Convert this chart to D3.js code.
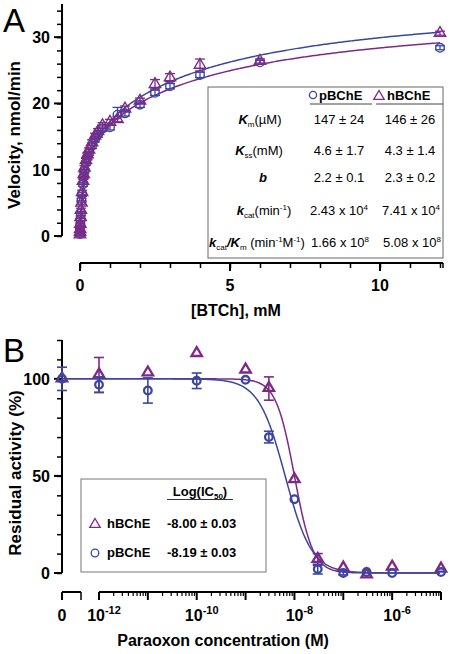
<!DOCTYPE html>
<html><head><meta charset="utf-8">
<script src="https://cdn.jsdelivr.net/npm/d3@7"></script>
<style>
body{margin:0;background:#fff;}
svg{display:block;font-family:"Liberation Sans",Arial,Helvetica,sans-serif;}
</style></head>
<body>
<svg id="c" width="450" height="654"></svg>
<script>
// ---------- Panel A data ----------
const substrateA = [0, 0.002, 0.005, 0.01, 0.02, 0.03, 0.05, 0.07, 0.1, 0.125, 0.15, 0.2, 0.25, 0.3, 0.4, 0.5, 0.6, 0.75, 1.0, 1.25, 1.5, 2.0, 2.5, 3.0, 4.0, 6.0, 12.0];
const pVel = [0.3, 0.5, 0.9, 1.6, 2.5, 3.4, 5.4, 6.3, 7.8, 8.9, 9.8, 11.0, 11.8, 12.5, 13.6, 14.6, 15.3, 16.2, 16.4, 18.3, 18.5, 19.8, 21.6, 22.6, 24.3, 26.2, 28.4];
const pVelErr = [0.2, 0.2, 0.2, 0.2, 0.2, 0.3, 0.3, 0.3, 0.3, 0.3, 0.3, 0.3, 0.3, 0.3, 0.4, 0.4, 0.4, 0.4, 0.4, 1.1, 0.4, 0.4, 0.4, 0.4, 0.4, 0.3, 0.3];
const hVel = [0.2, 0.6, 1.0, 1.8, 2.8, 3.9, 5.0, 6.6, 8.3, 9.3, 10.3, 11.4, 12.3, 13.0, 14.1, 15.1, 15.8, 16.7, 17.2, 17.6, 19.2, 20.4, 22.9, 23.9, 25.8, 26.4, 30.6];
const hVelErr = [0.2, 0.2, 0.2, 0.2, 0.2, 0.3, 0.3, 0.3, 0.3, 0.3, 0.3, 0.3, 0.3, 0.3, 0.4, 0.4, 0.4, 0.4, 0.4, 0.4, 0.4, 0.4, 0.7, 0.6, 0.9, 0.3, 0.3];
// fitted model parameters (Km mM, Kss mM, b, Vmax)  [upper blue line, lower purple line]
const fitKm = [0.146, 0.147];
const fitKss = [4.3, 4.6];
const fitB = [2.3, 2.2];
const fitVmax = [15.9, 15.8];
const ticksAx = [0, 5, 10];
const ticksAy = [0, 10, 20, 30];

// ---------- Panel B data ----------
const concB = [1e-12, 1e-11, 1e-10, 1e-9, 3e-9, 1e-8, 3e-8, 1e-7, 3e-7, 1e-6, 1e-5];
const hAct0 = 100, pAct0 = 100;
const hAct = [102, 103, 113, 104.5, 95, 48, 7, 2.5, -1, 3, 2];
const hErr = [9, 0, 0, 0, 6, 0, 3, 0, 0, 0, 0];
const pAct = [97, 94, 99, 99.5, 70, 38, 2, 0, 0.5, 0, 0.5];
const pErr = [4, 6.5, 4, 0, 3, 0, 2.5, 1, 0, 0, 0];
const pErr0 = 6;
const logIC50 = [-8.00, -8.19]; // hBChE, pBChE
const hill = [2.3, 1.6];
const ticksBy = [0, 50, 100];
const ticksBxExp = [-12, -10, -8, -6];

const BLUE = "#3a47a0", PURPLE = "#7d2a87";
const svg = d3.select("#c");

// ================= Panel A =================
const xA = d3.scaleLinear().domain([0, 12.1]).range([80, 443]);
const yA = d3.scaleLinear().domain([0, 35]).range([236, 4]);

svg.append("text").attr("x", 3).attr("y", 32).attr("font-size", 33).text("A");

// y axis
const gAy = svg.append("g").attr("transform", "translate(62,0)");
gAy.call(d3.axisLeft(yA).tickValues(d3.range(0, 35.01, 2)).tickSize(5).tickFormat(""));
gAy.selectAll(".major").data(ticksAy).enter().append("line").attr("class","major")
  .attr("x1", -8).attr("x2", 0).attr("y1", d => yA(d)).attr("y2", d => yA(d)).attr("stroke","#000").attr("stroke-width",2);
gAy.selectAll(".lab").data(ticksAy).enter().append("text").attr("class","lab")
  .attr("x", -12).attr("y", d => yA(d) + 6).attr("text-anchor","end").attr("fill","#000")
  .attr("font-family",'"Liberation Sans",Arial,sans-serif').attr("font-size",16).attr("font-weight","bold").text(d => d);
gAy.select(".domain").attr("stroke-width", 2).attr("d", `M0,${yA(35)}V${yA(0)}`);
gAy.selectAll(".tick line").attr("stroke-width", 1.5);

// x axis
const gAx = svg.append("g").attr("transform", "translate(0,263)");
gAx.call(d3.axisBottom(xA).tickValues(d3.range(0, 12.01, 1)).tickSize(5).tickFormat(""));
gAx.selectAll(".majorx").data(ticksAx).enter().append("line").attr("class","majorx")
  .attr("x1", d => xA(d)).attr("x2", d => xA(d)).attr("y1", 0).attr("y2", 8).attr("stroke","#000").attr("stroke-width",2);
gAx.selectAll(".lab").data(ticksAx).enter().append("text").attr("class","lab")
  .attr("x", d => xA(d)).attr("y", 28).attr("text-anchor","middle").attr("fill","#000")
  .attr("font-family",'"Liberation Sans",Arial,sans-serif').attr("font-size",16).attr("font-weight","bold").text(d => d);
gAx.select(".domain").attr("stroke-width", 2).attr("d", `M${xA(0)},0H${xA(12.1)}`);
gAx.selectAll(".tick line").attr("stroke-width", 1.5);
gAx.append("line").attr("x1", xA(12.1)).attr("x2", xA(12.1)).attr("y1",0).attr("y2",5).attr("stroke","#000").attr("stroke-width",1.5);

svg.append("text").attr("x", 236).attr("y", 316).attr("text-anchor","middle").attr("font-size",16).attr("font-weight","bold").text("[BTCh], mM");
svg.append("text").attr("transform","translate(20,135) rotate(-90)").attr("text-anchor","middle").attr("font-size",17).attr("font-weight","bold").text("Velocity, nmol/min");

// fit curves
function model(S, i){
  return fitVmax[i] * S / (fitKm[i] + S) * (1 + fitB[i] * S / fitKss[i]) / (1 + S / fitKss[i]);
}
const sGrid = d3.range(0, 0.5, 0.002).concat(d3.range(0.5, 12.0001, 0.05));
const lineA = d3.line().x(d => xA(d[0])).y(d => yA(d[1]));
[[0, BLUE], [1, PURPLE]].forEach(([i, col]) => {
  svg.append("path").attr("d", lineA(sGrid.map(s => [s, model(s, i)])))
    .attr("fill","none").attr("stroke", col).attr("stroke-width", 1.5);
});

// table box (drawn over lines)
svg.append("rect").attr("x", 208).attr("y", 87).attr("width", 235).attr("height", 171)
  .attr("fill","#fff").attr("stroke","#666").attr("stroke-width",1);

// markers A
function errBars(g, xs, ys, es, xS, yS, col, cap, sw){
  xs.forEach((x, k) => {
    if (!es[k]) return;
    const cx = xS(x), y1 = yS(ys[k] - es[k]), y2 = yS(ys[k] + es[k]);
    g.append("line").attr("x1",cx).attr("x2",cx).attr("y1",y1).attr("y2",y2).attr("stroke",col).attr("stroke-width",sw);
    g.append("line").attr("x1",cx-cap).attr("x2",cx+cap).attr("y1",y1).attr("y2",y1).attr("stroke",col).attr("stroke-width",sw);
    g.append("line").attr("x1",cx-cap).attr("x2",cx+cap).attr("y1",y2).attr("y2",y2).attr("stroke",col).attr("stroke-width",sw);
  });
}
const tri = (cx, cy, s) => `M${cx},${cy - s}L${cx + s * 0.95},${cy + s * 0.62}L${cx - s * 0.95},${cy + s * 0.62}Z`;
const gA = svg.append("g");
errBars(gA, substrateA, pVel, pVelErr, xA, yA, BLUE, 5, 1.3);
gA.selectAll(".pc").data(substrateA).enter().append("circle")
  .attr("cx", d => xA(d)).attr("cy", (d, k) => yA(pVel[k])).attr("r", 4.3)
  .attr("fill","none").attr("stroke", BLUE).attr("stroke-width", 1.4);
errBars(gA, substrateA, hVel, hVelErr, xA, yA, PURPLE, 5, 1.3);
gA.selectAll(".ht").data(substrateA).enter().append("path")
  .attr("d", (d, k) => tri(xA(d), yA(hVel[k]) - 0.5, 6))
  .attr("fill","none").attr("stroke", PURPLE).attr("stroke-width", 1.4);

// table contents
const T = svg.append("g").attr("font-size", 13);
T.append("circle").attr("cx", 313).attr("cy", 95).attr("r", 3.6).attr("fill","none").attr("stroke",BLUE).attr("stroke-width",1.3);
T.append("text").attr("x", 319).attr("y", 100).attr("font-weight","bold").text("pBChE");
T.append("path").attr("d", tri(379, 96, 5.5)).attr("fill","none").attr("stroke",PURPLE).attr("stroke-width",1.3);
T.append("text").attr("x", 387).attr("y", 100).attr("font-weight","bold").text("hBChE");
T.append("line").attr("x1", 310).attr("x2", 372).attr("y1", 104).attr("y2", 104).attr("stroke","#444");
T.append("line").attr("x1", 376).attr("x2", 443).attr("y1", 104).attr("y2", 104).attr("stroke","#444");

function label(x, y, parts, anchor){
  const t = T.append("text").attr("x", x).attr("y", y).attr("text-anchor", anchor || "middle");
  parts.forEach(p => {
    const s = t.append("tspan").text(p.t);
    if (p.b) s.attr("font-weight","bold");
    if (p.i) s.attr("font-style","italic");
    if (p.sub) s.attr("font-size", 8).attr("dy", 3);
    if (p.sup) s.attr("font-size", 8).attr("dy", -5);
    if (p.dy !== undefined) s.attr("dy", p.dy);
  });
  return t;
}
const rowY = [124, 155, 182, 215, 247];
const valP = ["147 ± 24", "4.6 ± 1.7", "2.2 ± 0.1"];
const valH = ["146 ± 26", "4.3 ± 1.4", "2.3 ± 0.2"];
label(260, rowY[0], [{t:"K",b:1,i:1},{t:"m",sub:1},{t:"(µM)",dy:-3}]);
label(259, rowY[1], [{t:"K",b:1,i:1},{t:"ss",sub:1},{t:"(mM)",dy:-3}]);
label(263, rowY[2], [{t:"b",b:1,i:1}]);
label(264, rowY[3], [{t:"k",b:1,i:1},{t:"cat",sub:1},{t:"(min",dy:-3},{t:"-1",sup:1},{t:")",dy:5}]);
label(209, rowY[4], [{t:"k",b:1,i:1},{t:"cat",sub:1},{t:"/",b:1,i:1,dy:-3},{t:"K",b:1,i:1},{t:"m",sub:1},{t:" (min",dy:-3},{t:"-1",sup:1},{t:"M",dy:5},{t:"-1",sup:1},{t:")",dy:5}], "start");
[0,1,2].forEach(k => {
  label(339, rowY[k], [{t:valP[k]}]);
  label(410, rowY[k], [{t:valH[k]}]);
});
const kcatMant = [["2.43", "4"], ["7.41", "4"]];
const effMant = [["1.66", "8"], ["5.08", "8"]];
label(339, rowY[3], [{t:kcatMant[0][0] + " x 10"},{t:kcatMant[0][1],sup:1}]);
label(411, rowY[3], [{t:kcatMant[1][0] + " x 10"},{t:kcatMant[1][1],sup:1}]);
label(340, rowY[4], [{t:effMant[0][0] + " x 10"},{t:effMant[0][1],sup:1}]);
label(412, rowY[4], [{t:effMant[1][0] + " x 10"},{t:effMant[1][1],sup:1}]);

// ================= Panel B =================
const xB = d3.scaleLog().domain([1e-12, 1e-5]).range([99, 441]);
const X0 = 62;
const yB = d3.scaleLinear().domain([0, 120]).range([573, 340]);

svg.append("text").attr("x", 3).attr("y", 362).attr("font-size", 33).text("B");

const gBy = svg.append("g").attr("transform", "translate(62,0)");
gBy.call(d3.axisLeft(yB).tickValues(d3.range(0, 120.01, 10)).tickSize(5).tickFormat(""));
gBy.select(".domain").attr("stroke-width", 2).attr("d", `M0,${yB(120)}V${yB(0)}`);
gBy.selectAll(".tick line").attr("stroke-width", 1.5);
gBy.selectAll(".mj").data(ticksBy).enter().append("line").attr("class","mj")
  .attr("x1", -8).attr("x2", 0).attr("y1", d => yB(d)).attr("y2", d => yB(d)).attr("stroke","#000").attr("stroke-width",2);
gBy.selectAll(".lab").data(ticksBy).enter().append("text").attr("class","lab")
  .attr("x", -12).attr("y", d => yB(d) + 6).attr("text-anchor","end").attr("fill","#000")
  .attr("font-family",'"Liberation Sans",Arial,sans-serif').attr("font-size",16).attr("font-weight","bold").text(d => d);

// x axis: zero segment + log segment
const gBx = svg.append("g").attr("transform", "translate(0,592)");
gBx.append("path").attr("d", `M${X0},0H81`).attr("stroke","#000").attr("stroke-width",2).attr("fill","none");
gBx.append("line").attr("x1", X0).attr("x2", X0).attr("y1", 0).attr("y2", 8).attr("stroke","#000").attr("stroke-width",2);
gBx.append("line").attr("x1", 81).attr("x2", 81).attr("y1", 0).attr("y2", 8).attr("stroke","#000").attr("stroke-width",1.5);
gBx.append("text").attr("x", X0).attr("y", 29).attr("text-anchor","middle").attr("font-size",16).attr("font-weight","bold").text("0");
gBx.append("path").attr("d", `M${xB(1e-12)},0H${xB(1e-5)}`).attr("stroke","#000").attr("stroke-width",2).attr("fill","none");
const minorB = [];
for (let e = -12; e < -5; e++) for (let m = 1; m < 10; m++) minorB.push(m * Math.pow(10, e));
minorB.push(1e-5);
const isDecade = d => Math.abs(Math.log10(d) - Math.round(Math.log10(d))) < 1e-6;
gBx.selectAll(".mt").data(minorB).enter().append("line")
  .attr("x1", d => xB(d)).attr("x2", d => xB(d)).attr("y1", 0)
  .attr("y2", d => isDecade(d) ? 8 : 4)
  .attr("stroke","#000").attr("stroke-width", d => isDecade(d) ? 2 : 1.2);
ticksBxExp.forEach(e => {
  const t = gBx.append("text").attr("x", xB(Math.pow(10, e)) + 5).attr("y", 29).attr("text-anchor","middle").attr("font-size",16).attr("font-weight","bold");
  t.append("tspan").text("10");
  t.append("tspan").attr("font-size", 11).attr("dy", -7).text(String(e));
});

svg.append("text").attr("x", 223).attr("y", 646).attr("text-anchor","middle").attr("font-size",16).attr("font-weight","bold").text("Paraoxon concentration (M)");
svg.append("text").attr("transform","translate(21,473) rotate(-90)").attr("text-anchor","middle").attr("font-size",17).attr("font-weight","bold").text("Residual activity (%)");

// curves B
function logistic(c, i){ return 100 / (1 + Math.pow(10, (Math.log10(c) - logIC50[i]) * hill[i])); }
const cGrid = d3.range(-12, -5.0001, 0.02).map(e => Math.pow(10, e));
const lineB = d3.line().x(d => d[0]).y(d => yB(d[1]));
[[0, PURPLE], [1, BLUE]].forEach(([i, col]) => {
  const pts = [[X0, logistic(1e-12, i)]].concat(cGrid.map(c => [xB(c), logistic(c, i)]));
  svg.append("path").attr("d", lineB(pts)).attr("fill","none").attr("stroke", col).attr("stroke-width", 1.5);
});

// legend box B
svg.append("rect").attr("x", 81).attr("y", 479).attr("width", 185).attr("height", 93)
  .attr("fill","#fff").attr("stroke","#777").attr("stroke-width",1);
const L = svg.append("g").attr("font-size", 13).attr("font-weight","bold");
const lh = L.append("text").attr("x", 200).attr("y", 496).attr("text-anchor","middle");
lh.append("tspan").text("Log(IC");
lh.append("tspan").attr("font-size", 8).attr("dy", 3).text("50");
lh.append("tspan").attr("dy", -3).text(")");
L.append("line").attr("x1", 167).attr("x2", 233).attr("y1", 499.5).attr("y2", 499.5).attr("stroke","#333").attr("stroke-width",1);
const legNames = ["hBChE", "pBChE"];
const legVals = ["-8.00 ± 0.03", "-8.19 ± 0.03"];
const legY = [528, 557];
L.append("path").attr("d", tri(95, legY[0] - 4, 5.5)).attr("fill","none").attr("stroke",PURPLE).attr("stroke-width",1.3);
L.append("circle").attr("cx", 95).attr("cy", legY[1] - 4).attr("r", 3.8).attr("fill","none").attr("stroke",BLUE).attr("stroke-width",1.3);
legNames.forEach((n, k) => {
  L.append("text").attr("x", 107).attr("y", legY[k]).text(n);
  L.append("text").attr("x", 167).attr("y", legY[k]).text(legVals[k]);
});

// markers B
const gB = svg.append("g");
function errB(xp, y, e, col){
  if (!e) return;
  const y1 = yB(y - e), y2 = yB(y + e);
  gB.append("line").attr("x1",xp).attr("x2",xp).attr("y1",y1).attr("y2",y2).attr("stroke",col).attr("stroke-width",1.6);
  gB.append("line").attr("x1",xp-5).attr("x2",xp+5).attr("y1",y1).attr("y2",y1).attr("stroke",col).attr("stroke-width",1.6);
  gB.append("line").attr("x1",xp-5).attr("x2",xp+5).attr("y1",y2).attr("y2",y2).attr("stroke",col).attr("stroke-width",1.6);
}
concB.forEach((c, k) => errB(xB(c), hAct[k], hErr[k], PURPLE));
gB.append("path").attr("d", tri(X0, yB(hAct0) - 1, 5.5)).attr("fill","none").attr("stroke",PURPLE).attr("stroke-width",2.3);
gB.selectAll(".ht").data(concB).enter().append("path")
  .attr("d", (c, k) => tri(xB(c), yB(hAct[k]) - 1, 5.5))
  .attr("fill","none").attr("stroke",PURPLE).attr("stroke-width",2.3);
concB.forEach((c, k) => errB(xB(c), pAct[k], pErr[k], BLUE));
errB(X0, pAct0, pErr0, BLUE);
gB.append("circle").attr("cx", X0).attr("cy", yB(pAct0)).attr("r", 3.8).attr("fill","none").attr("stroke",BLUE).attr("stroke-width",2.3);
gB.selectAll(".pc").data(concB).enter().append("circle")
  .attr("cx", c => xB(c)).attr("cy", (c, k) => yB(pAct[k])).attr("r", 3.8)
  .attr("fill","none").attr("stroke",BLUE).attr("stroke-width",2.3);
</script>
</body></html>
